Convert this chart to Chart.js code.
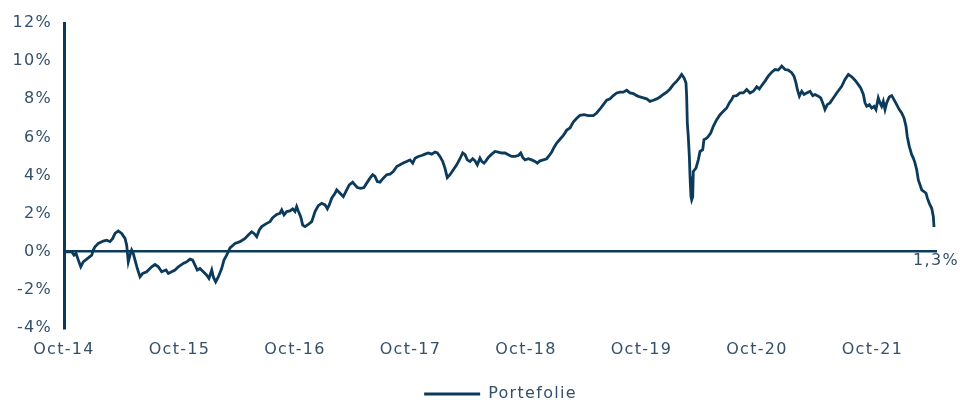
<!DOCTYPE html>
<html>
<head>
<meta charset="utf-8">
<script src="https://cdn.jsdelivr.net/npm/chart.js@4"></script>
<style>
  html, body { margin: 0; padding: 0; background: #ffffff; }
  #wrap { width: 960px; height: 400px; }
</style>
</head>
<body>
<div id="wrap"><canvas id="c" width="960" height="400"></canvas></div>
<script>
// Months elapsed since October 2014
const months = [
  0, 0.8, 1.04, 1.25, 1.49, 1.74, 2.0, 2.36, 2.88, 3.04, 3.22, 3.56, 4.08, 4.44, 4.78, 5.06, 5.30, 5.64, 5.99, 6.34,
  6.51, 6.68, 6.86, 7.03, 7.20, 7.38, 7.62, 7.90, 8.18, 8.59, 9.11, 9.45, 9.80, 10.15, 10.60, 10.84, 11.19, 11.53, 11.88, 12.39,
  12.75, 13.09, 13.37, 13.61, 13.85, 14.13, 14.47, 14.83, 15.06, 15.35, 15.51, 15.76, 16.03, 16.38, 16.62, 16.90, 17.25, 17.59,
  17.77, 18.29, 18.81, 19.15, 19.50, 19.74, 20.02, 20.29, 20.54, 21.06, 21.40, 21.68, 22.10, 22.44, 22.62, 22.86, 23.14, 23.48,
  23.76, 24.0, 24.17, 24.34, 24.59, 24.80, 25.04, 25.38, 25.74, 26.08, 26.42, 26.77, 27.12, 27.36, 27.56, 27.81, 28.16, 28.33,
  28.68, 29.02, 29.37, 29.64, 29.99, 30.23, 30.47, 30.83, 31.17, 31.45, 31.79, 32.07, 32.31, 32.55, 32.83, 33.17, 33.53, 33.87,
  34.21, 34.57, 34.91, 35.25, 35.60, 35.95, 36.23, 36.47, 36.81, 37.16, 37.51, 37.85, 38.20, 38.55, 38.79, 39.06, 39.34, 39.58,
  39.82, 40.10, 40.45, 40.80, 41.14, 41.42, 41.66, 41.90, 42.18, 42.46, 42.70, 42.94, 43.22, 43.40, 43.64, 43.84, 44.08, 44.44,
  44.78, 45.12, 45.48, 45.82, 46.16, 46.51, 46.86, 47.20, 47.45, 47.66, 47.90, 48.24, 48.59, 48.94, 49.17, 49.45, 49.80, 50.15,
  50.42, 50.67, 50.91, 51.19, 51.53, 51.88, 52.23, 52.57, 52.91, 53.27, 53.61, 54.03, 54.47, 54.99, 55.34, 55.69, 56.03, 56.38,
  56.73, 57.07, 57.42, 57.77, 58.11, 58.46, 58.81, 59.15, 59.50, 59.84, 60.19, 60.54, 60.88, 61.23, 61.58, 61.92, 62.26, 62.62,
  62.96, 63.30, 63.66, 63.93, 64.17, 64.42, 64.62, 64.69, 64.76, 64.86, 64.97, 65.04, 65.14, 65.21, 65.32, 65.38, 65.66, 65.90,
  66.08, 66.36, 66.49, 66.77, 66.94, 67.19, 67.46, 67.81, 68.16, 68.50, 68.85, 69.12, 69.37, 69.54, 69.89, 70.23, 70.58, 70.93,
  71.27, 71.62, 71.97, 72.24, 72.49, 72.83, 73.17, 73.53, 73.87, 74.21, 74.57, 74.91, 75.25, 75.60, 75.84, 76.05, 76.19, 76.40,
  76.65, 76.88, 77.16, 77.51, 77.79, 78.03, 78.37, 78.62, 78.83, 79.06, 79.30, 79.58, 79.93, 80.28, 80.55, 80.80, 81.14, 81.49,
  81.84, 82.18, 82.53, 82.77, 83.05, 83.22, 83.40, 83.67, 83.92, 84.16, 84.36, 84.60, 84.78, 84.95, 85.12, 85.30, 85.47, 85.74,
  85.99, 86.23, 86.51, 86.78, 87.03, 87.27, 87.48, 87.61, 87.82, 88.07, 88.24, 88.42, 88.59, 88.76, 88.94, 89.11, 89.35, 89.56,
  89.70, 89.90, 90.15, 90.32, 90.39
];

// Portfolio cumulative return, %
const portefolie = [
  0.0, 0.0, -0.18, -0.09, -0.44, -0.79, -0.53, -0.39, -0.18, 0.09, 0.26, 0.44, 0.56, 0.61, 0.53, 0.70, 0.96, 1.09, 0.96, 0.70,
  0.35, -0.53, -0.18, 0.09, -0.09, -0.44, -0.88, -1.32, -1.14, -1.05, -0.79, -0.67, -0.79, -1.05, -0.96, -1.14, -1.05, -0.96, -0.79, -0.61,
  -0.53, -0.39, -0.44, -0.70, -0.96, -0.88, -1.05, -1.23, -1.40, -0.96, -1.32, -1.58, -1.32, -0.88, -0.44, -0.18, 0.20, 0.35,
  0.44, 0.53, 0.70, 0.88, 1.05, 0.96, 0.79, 1.14, 1.32, 1.49, 1.58, 1.79, 1.96, 2.02, 2.19, 1.93, 2.11, 2.14,
  2.25, 2.11, 2.37, 2.14, 1.84, 1.40, 1.32, 1.44, 1.58, 2.11, 2.42, 2.54, 2.46, 2.25, 2.46, 2.81, 3.07, 3.25,
  3.07, 2.89, 3.25, 3.51, 3.65, 3.51, 3.37, 3.33, 3.37, 3.60, 3.86, 4.04, 3.95, 3.68, 3.65, 3.86, 4.04, 4.07,
  4.21, 4.47, 4.56, 4.65, 4.74, 4.82, 4.65, 4.91, 5.00, 5.05, 5.12, 5.18, 5.12, 5.23, 5.18, 5.00, 4.74, 4.39,
  3.89, 4.04, 4.30, 4.56, 4.88, 5.18, 5.09, 4.82, 4.74, 4.88, 4.77, 4.56, 4.91, 4.74, 4.65, 4.77, 4.95, 5.12,
  5.26, 5.23, 5.18, 5.18, 5.09, 5.00, 5.00, 5.05, 5.18, 4.95, 4.82, 4.88, 4.82, 4.74, 4.65, 4.77, 4.82, 4.88,
  5.05, 5.23, 5.47, 5.70, 5.90, 6.10, 6.38, 6.49, 6.80, 7.00, 7.16, 7.19, 7.14, 7.14, 7.28, 7.49, 7.72, 7.95,
  8.02, 8.19, 8.33, 8.37, 8.37, 8.47, 8.33, 8.30, 8.19, 8.12, 8.07, 8.02, 7.89, 7.95, 8.02, 8.12, 8.25, 8.37,
  8.54, 8.77, 8.95, 9.12, 9.30, 9.12, 8.86, 8.16, 6.75, 6.05, 5.00, 3.95, 2.89, 2.72, 2.89, 4.21, 4.39, 4.82,
  5.26, 5.35, 5.88, 5.96, 6.05, 6.23, 6.58, 6.93, 7.19, 7.37, 7.54, 7.81, 7.98, 8.16, 8.19, 8.33, 8.33, 8.51,
  8.33, 8.42, 8.65, 8.54, 8.72, 8.95, 9.21, 9.42, 9.56, 9.53, 9.74, 9.56, 9.53, 9.39, 9.21, 8.86, 8.51, 8.16,
  8.42, 8.25, 8.33, 8.42, 8.19, 8.25, 8.16, 8.07, 7.81, 7.46, 7.72, 7.81, 8.07, 8.33, 8.51, 8.68, 9.04, 9.30,
  9.18, 9.00, 8.77, 8.60, 8.25, 7.81, 7.63, 7.72, 7.54, 7.63, 7.46, 8.07, 7.81, 7.63, 7.89, 7.46, 7.81, 8.12,
  8.19, 7.98, 7.72, 7.46, 7.28, 7.02, 6.58, 6.05, 5.53, 5.09, 4.91, 4.65, 4.30, 3.77, 3.51, 3.25, 3.16, 3.07,
  2.81, 2.54, 2.28, 1.84, 1.30
];

const xTickLabels = ['Oct-14', 'Oct-15', 'Oct-16', 'Oct-17', 'Oct-18', 'Oct-19', 'Oct-20', 'Oct-21'];
const seriesName = 'Portefolie';
const endLabel = '1,3%';

const NAVY = '#0c3a5b';
const TEXT = '#34506b';
const FONT = 'DejaVu Sans';

const spacingPlugin = {
  id: 'spacing',
  beforeUpdate(chart) { chart.ctx.letterSpacing = '1.3px'; },
  beforeDraw(chart) { chart.ctx.letterSpacing = '1.3px'; }
};

// Legend sits centred under the plot area (not the whole canvas), near the bottom edge
const legendShiftPlugin = {
  id: 'legendShift',
  afterLayout(chart) {
    const lg = chart.legend;
    if (!lg) return;
    const ca = chart.chartArea;
    const dx = (ca.left + ca.right) / 2 - (lg.left + lg.right) / 2;
    const dy = 12;
    lg.left += dx; lg.right += dx;
    lg.top += dy; lg.bottom += dy;
  }
};

const endLabelPlugin = {
  id: 'endLabel',
  afterDatasetsDraw(chart) {
    const ctx = chart.ctx;
    const xs = chart.scales.x, ys = chart.scales.y;
    const last = months.length - 1;
    const x = xs.getPixelForValue(months[last]);
    const y = ys.getPixelForValue(0);
    ctx.save();
    ctx.letterSpacing = '1.3px';
    ctx.font = '16px "' + FONT + '"';
    ctx.fillStyle = TEXT;
    ctx.textAlign = 'center';
    ctx.textBaseline = 'middle';
    ctx.fillText(endLabel, x + 2, y + 9);
    ctx.restore();
  }
};

const points = months.map((m, i) => ({ x: m, y: portefolie[i] }));

new Chart(document.getElementById('c'), {
  type: 'line',
  data: {
    datasets: [{
      label: seriesName,
      data: points,
      borderColor: NAVY,
      backgroundColor: NAVY,
      borderWidth: 2.8,
      pointRadius: 0,
      tension: 0,
      fill: false
    }]
  },
  options: {
    responsive: false,
    animation: false,
    layout: { padding: { top: 23, right: 23, left: 0, bottom: 0 } },
    plugins: {
      legend: {
        position: 'bottom',
        labels: {
          boxWidth: 56,
          boxHeight: 3,
          padding: 2,
          color: TEXT,
          font: { family: FONT, size: 16 },
          generateLabels(chart) {
            const items = Chart.defaults.plugins.legend.labels.generateLabels(chart);
            items.forEach(it => { it.lineWidth = 0; it.fillStyle = NAVY; });
            return items;
          }
        }
      },
      tooltip: { enabled: false }
    },
    scales: {
      x: {
        type: 'linear',
        min: 0,
        max: 90.7,
        grid: { display: false, drawTicks: false },
        border: { display: false },
        ticks: {
          stepSize: 12,
          includeBounds: false,
          autoSkip: false,
          maxRotation: 0,
          padding: 12,
          color: TEXT,
          font: { family: FONT, size: 16 },
          callback: (v) => xTickLabels[Math.round(v / 12)] ?? ''
        },
        afterFit(scale) { scale.height = 44; }
      },
      y: {
        min: -4,
        max: 12,
        grid: {
          drawTicks: false,
          lineWidth: 2.6,
          color: (c) => (c.tick && c.tick.value === 0) ? NAVY : 'rgba(0,0,0,0)'
        },
        border: { display: true, color: NAVY, width: 3 },
        ticks: {
          stepSize: 2,
          padding: 12,
          color: TEXT,
          font: { family: FONT, size: 16 },
          callback: (v) => v + '%'
        },
        afterFit(scale) { scale.width = 64; }
      }
    }
  },
  plugins: [spacingPlugin, legendShiftPlugin, endLabelPlugin]
});
</script>
</body>
</html>
